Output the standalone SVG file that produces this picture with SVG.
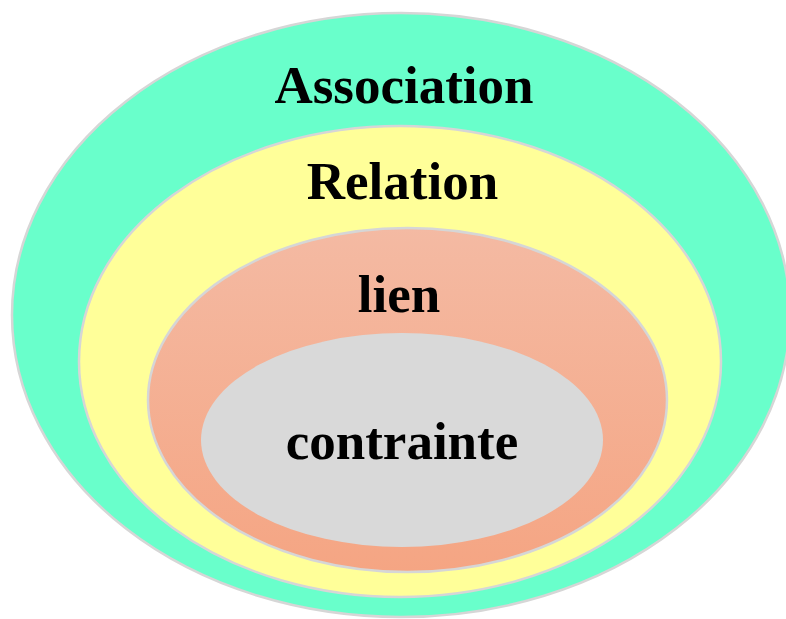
<svg xmlns="http://www.w3.org/2000/svg" width="786" height="619" viewBox="0 0 786 619">
  <style>
    .ring { stroke: #d6d6d6; stroke-width: 2.5; }
    .lbl { font-family: "Liberation Serif", "Times New Roman", serif; font-weight: bold; font-size: 53px; fill: #000; text-anchor: middle; }
  </style>
  <defs>
    <linearGradient id="salmon" x1="0" y1="0" x2="0" y2="1">
      <stop offset="0" stop-color="#f4baa3"/>
      <stop offset="1" stop-color="#f5a583"/>
    </linearGradient>
  </defs>
  <rect width="786" height="619" fill="#ffffff"/>
  <g id="association">
    <ellipse class="ring" cx="401" cy="315" rx="389" ry="302" fill="#69ffcb"/>
    <text class="lbl" x="404" y="103">Association</text>
  </g>
  <g id="relation">
    <ellipse class="ring" cx="400" cy="361.5" rx="321" ry="235.5" fill="#ffff99"/>
    <text class="lbl" x="402.5" y="199">Relation</text>
  </g>
  <g id="lien">
    <ellipse class="ring" cx="407.5" cy="400" rx="259.5" ry="172" fill="url(#salmon)"/>
    <text class="lbl" x="399" y="312">lien</text>
  </g>
  <g id="contrainte">
    <ellipse cx="402" cy="440" rx="201" ry="107" fill="#d9d9d9"/>
    <text class="lbl" x="402" y="459">contrainte</text>
  </g>
  <g id="connectors"/>
</svg>
